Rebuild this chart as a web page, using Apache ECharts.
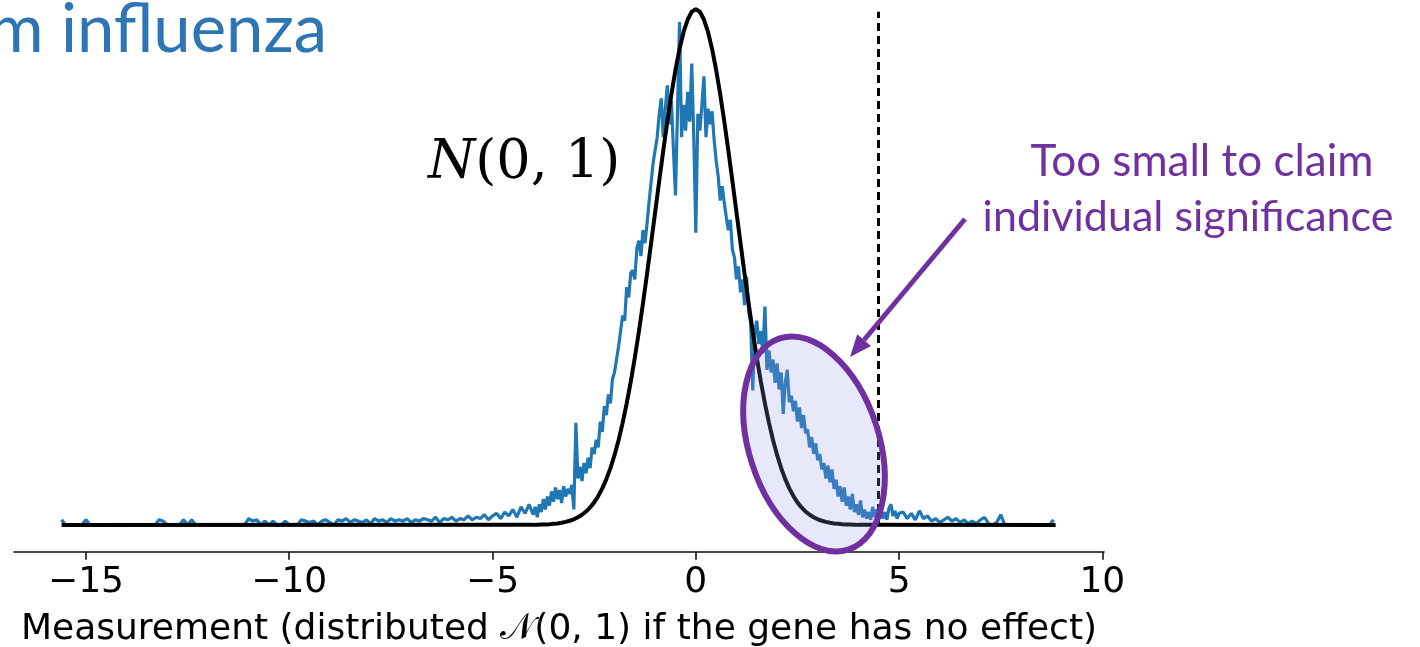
<!DOCTYPE html>
<html>
<head>
<meta charset="utf-8">
<script src="https://cdn.jsdelivr.net/npm/echarts@6/dist/echarts.min.js"></script>
<style>
html, body { margin: 0; padding: 0; background: #fff; }
#main { width: 1420px; height: 647px; }
</style>
</head>
<body>
<div id="main"></div>
<script>
// measured gene scores, density per bin
const leftTailStart = -15.6, leftTailStep = 0.1;
const leftTail = [
    0.004, 0, 0, 0, 0, 0, 0.004, 0, 0, 0,
    0, 0, 0, 0, 0, 0, 0, 0, 0, 0,
    0, 0, 0, 0, 0.004, 0.003, 0, 0, 0, 0,
    0.004, 0, 0.004, 0, 0, 0, 0, 0, 0, 0,
    0, 0, 0, 0, 0, 0, 0.005, 0.003, 0.004, 0,
    0.003, 0, 0.003, 0, 0, 0.003, 0, 0, 0, 0.004,
    0.003, 0.002, 0.003, 0, 0.003, 0.004, 0.002, 0, 0.004, 0.003,
    0.005, 0.002, 0.004, 0.003, 0.002, 0.004, 0.001, 0.005, 0.003, 0.004,
    0.002, 0.005, 0.003, 0.004, 0.003, 0.005, 0.002, 0.004, 0.003, 0.005,
    0.004, 0.003, 0.006, 0.002, 0.005, 0.004, 0.006, 0.003, 0.005, 0.004,
    0.007, 0.004, 0.006, 0.005, 0.008, 0.004, 0.007, 0.009, 0.005, 0.010,
    0.007, 0.012, 0.006, 0.014, 0.009, 0.016
];
const coreStart = -4.0, coreStep = 0.05;
const core = [
    0.008, 0.014, 0.006, 0.016, 0.010, 0.020, 0.012, 0.022, 0.015, 0.026,
    0.018, 0.029, 0.020, 0.027, 0.017, 0.030, 0.022, 0.028, 0.024, 0.031,
    0.012, 0.079, 0.036, 0.045, 0.034, 0.048, 0.040, 0.052, 0.044, 0.060,
    0.055, 0.066, 0.060, 0.080, 0.072, 0.092, 0.085, 0.101, 0.094, 0.113,
    0.118, 0.128, 0.138, 0.150, 0.162, 0.158, 0.184, 0.176, 0.195, 0.197,
    0.190, 0.214, 0.220, 0.208, 0.228, 0.218, 0.233, 0.250, 0.265, 0.280,
    0.290, 0.300, 0.318, 0.330, 0.300, 0.322, 0.340, 0.310, 0.328, 0.290,
    0.255, 0.320, 0.389, 0.300, 0.325, 0.305, 0.335, 0.312, 0.357, 0.300,
    0.226, 0.318, 0.305, 0.325, 0.347, 0.300, 0.322, 0.310, 0.320, 0.298,
    0.282, 0.270, 0.251, 0.262, 0.249, 0.238, 0.228, 0.236, 0.213, 0.207,
    0.190, 0.200, 0.180, 0.190, 0.170, 0.192, 0.165, 0.156, 0.104, 0.150,
    0.158, 0.140, 0.150, 0.133, 0.169, 0.120, 0.135, 0.118, 0.128, 0.110,
    0.125, 0.105, 0.118, 0.086, 0.110, 0.120, 0.095, 0.100, 0.088, 0.096,
    0.080, 0.091, 0.075, 0.085, 0.071, 0.074, 0.060, 0.068, 0.055, 0.063,
    0.050, 0.055, 0.043, 0.048, 0.036, 0.046, 0.033, 0.043, 0.028, 0.035,
    0.022, 0.030, 0.018, 0.029, 0.015, 0.022, 0.012, 0.024, 0.010, 0.016,
    0.008, 0.019, 0.006, 0.012, 0.005, 0.010, 0.004, 0.014, 0.006, 0.012,
    0.006, 0.012, 0.005, 0.010, 0.004, 0.013, 0.016, 0.007, 0.011, 0.005,
    0.009
];
const rightTailStart = 5.1, rightTailStep = 0.1;
const rightTail = [
    0.010, 0.005, 0.009, 0.004, 0.011, 0.005, 0.007, 0.003, 0.005, 0.002,
    0.004, 0.006, 0.003, 0.005, 0.002, 0.004, 0.001, 0.003, 0.001, 0.004,
    0.006, 0.001, 0, 0.002, 0.008, 0, 0, 0, 0, 0,
    0, 0, 0, 0, 0, 0, 0, 0.004
];

// N(0,1) density, -4 .. 4 step 0.1
const normalStart = -4.0, normalStep = 0.1;
const normalPdf = [
    0.0001, 0.0002, 0.0003, 0.0004, 0.0006, 0.0009, 0.0012, 0.0017, 0.0024, 0.0033,
    0.0044, 0.0060, 0.0079, 0.0104, 0.0136, 0.0175, 0.0224, 0.0283, 0.0355, 0.0440,
    0.0540, 0.0656, 0.0790, 0.0940, 0.1109, 0.1295, 0.1497, 0.1714, 0.1942, 0.2179,
    0.2420, 0.2661, 0.2897, 0.3123, 0.3332, 0.3521, 0.3683, 0.3814, 0.3910, 0.3970,
    0.3989,
    0.3970, 0.3910, 0.3814, 0.3683, 0.3521, 0.3332, 0.3123, 0.2897, 0.2661, 0.2420,
    0.2179, 0.1942, 0.1714, 0.1497, 0.1295, 0.1109, 0.0940, 0.0790, 0.0656, 0.0540,
    0.0440, 0.0355, 0.0283, 0.0224, 0.0175, 0.0136, 0.0104, 0.0079, 0.0060, 0.0044,
    0.0033, 0.0024, 0.0017, 0.0012, 0.0009, 0.0006, 0.0004, 0.0003, 0.0002, 0.0001
];
const curveEnds = [-15.6, 8.85];

const tickValues = [-15, -10, -5, 0, 5, 10];
const threshold = 4.48;
const thresholdTop = 0.397;

function toPairs(start, step, arr) {
    return arr.map((v, i) => [+(start + i * step).toFixed(3), v]);
}

let measured = toPairs(leftTailStart, leftTailStep, leftTail)
    .concat(toPairs(coreStart, coreStep, core))
    .concat(toPairs(rightTailStart, rightTailStep, rightTail));
let normal = [[curveEnds[0], 0]]
    .concat(toPairs(normalStart, normalStep, normalPdf))
    .concat([[curveEnds[1], 0]]);

const purple = '#7030a0';

let option = {
    animation: false,
    backgroundColor: '#fff',
    grid: {left: 14, right: 316, top: 0, bottom: 95.3, containLabel: false, outerBoundsMode: 'none'},
    xAxis: {
        type: 'value',
        min: -16.77,
        max: 10.04,
        splitLine: {show: false},
        axisLine: {onZero: false, lineStyle: {color: '#111', width: 1.6}},
        axisTick: {customValues: tickValues, length: 8, lineStyle: {color: '#111', width: 1.6}},
        axisLabel: {
            customValues: tickValues,
            margin: 12.5,
            fontFamily: 'DejaVu Sans',
            fontSize: 36,
            color: '#000',
            formatter: v => String(v).replace('-', '\u2212')
        },
        name: 'Measurement (distributed \u{1D4A9}(0, 1) if the gene has no effect)',
        nameLocation: 'middle',
        nameGap: 60,
        nameTextStyle: {fontFamily: 'DejaVu Sans', fontSize: 36, color: '#000'}
    },
    yAxis: {
        type: 'value',
        min: -0.02065,
        max: 0.4061,
        show: false
    },
    series: [
        {
            name: 'measured',
            type: 'line',
            data: measured,
            showSymbol: false,
            lineStyle: {color: '#1f77b4', width: 3.2},
            z: 2
        },
        {
            name: 'N(0,1)',
            type: 'line',
            data: normal,
            showSymbol: false,
            lineStyle: {color: '#000', width: 4},
            z: 3,
            markLine: {
                silent: true,
                symbol: 'none',
                label: {show: false},
                lineStyle: {color: '#000', width: 3, type: [8, 5]},
                data: [[{coord: [threshold, 0]}, {coord: [threshold, thresholdTop]}]]
            }
        }
    ],
    graphic: [
        {
            type: 'text', x: 327, y: 30, z: 50,
            style: {text: 'm influenza', font: '67px Lato', fill: '#2e75b6', align: 'right', verticalAlign: 'middle'}
        },
        {
            type: 'text', x: 428, y: 164, z: 50,
            style: {
                text: '{i|N}{r|(0, 1)}',
                verticalAlign: 'middle',
                rich: {
                    i: {fontFamily: 'DejaVu Serif', fontSize: 54, fontStyle: 'italic', fill: '#000'},
                    r: {fontFamily: 'DejaVu Serif', fontSize: 54, fill: '#000'}
                }
            }
        },
        {
            type: 'text', x: 1202, y: 162, z: 50,
            style: {text: 'Too small to claim', font: '44px Lato', fill: purple, align: 'center', verticalAlign: 'middle'}
        },
        {
            type: 'text', x: 1188, y: 217, z: 50,
            style: {text: 'individual significance', font: '43px Lato', fill: purple, align: 'center', verticalAlign: 'middle'}
        },
        {
            type: 'ellipse', x: 814, y: 444, rotation: 0.314, z: 100,
            shape: {cx: 0, cy: 0, rx: 65, ry: 111},
            style: {fill: 'rgba(150,150,235,0.22)', stroke: purple, lineWidth: 6}
        },
        {
            type: 'line', z: 100,
            shape: {x1: 965, y1: 219, x2: 864, y2: 340},
            style: {stroke: purple, lineWidth: 5}
        },
        {
            type: 'polygon', z: 100,
            shape: {points: [[850, 357], [871, 345.9], [857.2, 334.3]]},
            style: {fill: purple}
        }
    ]
};

let myChart = echarts.init(document.getElementById('main'));
myChart.setOption(option);
</script>
</body>
</html>
